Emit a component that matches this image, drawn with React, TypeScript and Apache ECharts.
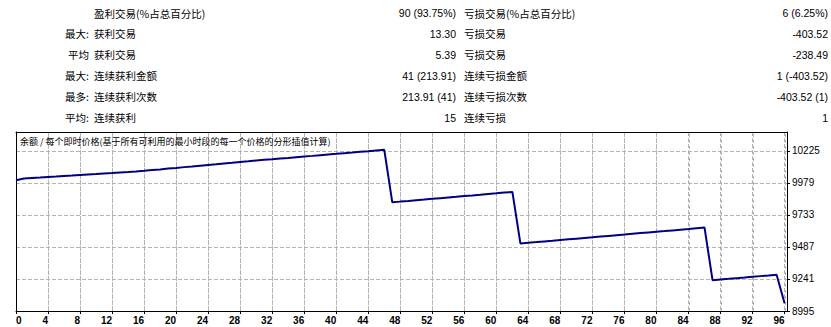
import React, { useEffect, useRef } from "react";
import * as echarts from "echarts";

// ---- Summary table (top) ----
const rowPrefixes = ["", "最大:", "平均", "最大:", "最多:", "平均:"];
const winLabels = ["盈利交易(%占总百分比)", "获利交易", "获利交易", "连续获利金额", "连续获利次数", "连续获利"];
const winValues = ["90 (93.75%)", "13.30", "5.39", "41 (213.91)", "213.91 (41)", "15"];
const lossLabels = ["亏损交易(%占总百分比)", "亏损交易", "亏损交易", "连续亏损金额", "连续亏损次数", "连续亏损"];
const lossValues = ["6 (6.25%)", "-403.52", "-238.49", "1 (-403.52)", "-403.52 (1)", "1"];

// ---- Chart ----
const chartTitle = "余额 / 每个即时价格(基于所有可利用的最小时段的每一个价格的分形插值计算)";
const yTickLabels = [8995, 9241, 9487, 9733, 9979, 10225];
const xTickLabels = [0, 4, 8, 12, 16, 20, 24, 28, 32, 36, 40, 44, 48, 52, 56, 60, 64, 68, 72, 76, 80, 84, 88, 92, 96];
const balance = [
  10000, 10013.3, 10017.2, 10020.7, 10024.9, 10028.5, 10032.5, 10035.8, 10039.9, 10043.6,
  10047.4, 10051.4, 10055.0, 10058.9, 10062.4, 10066.1, 10071.5, 10077.6, 10082.8, 10088.7,
  10094.2, 10100.2, 10105.5, 10111.3, 10116.9, 10122.1, 10128.3, 10133.8, 10139.5, 10144.9,
  10150.8, 10156.1, 10161.1, 10166.4, 10171.2, 10176.6, 10181.7, 10186.6, 10192.2, 10197.4,
  10202.1, 10207.4, 10212.4, 10217.9, 10222.8, 10228.0, 10233.1, 9829.6, 9835.2, 9840.3,
  9845.8, 9850.8, 9856.5, 9861.7, 9867.1, 9872.4, 9878.0, 9883.1, 9888.5, 9894.0,
  9899.2, 9904.5, 9909.6, 9514.0, 9519.3, 9524.3, 9529.7, 9534.9, 9540.4, 9545.5,
  9550.8, 9556.2, 9561.2, 9566.8, 9572.0, 9577.3, 9582.4, 9587.8, 9593.3, 9598.5,
  9603.8, 9608.8, 9614.2, 9619.5, 9624.7, 9630.2, 9635.5, 9232.0, 9237.2, 9242.1,
  9247.4, 9252.4, 9257.8, 9262.9, 9267.9, 9273.1, 9054.2,
];

const CJK = '"Noto Sans CJK SC", sans-serif';
const NUM = '"Liberation Sans Narrow", "Liberation Sans", "Noto Sans CJK SC", sans-serif';
const GRID_COLOR = "#b4b4b4";

export default function App() {
  const ref = useRef<HTMLDivElement>(null);
  useEffect(() => {
    if (!ref.current) return;
    const chart = echarts.init(ref.current, null, { renderer: "svg" });

    const rowY = (k: number) => 13 + k * 20.9;
    const graphics: any[] = [];
    rowPrefixes.forEach((t, k) => {
      if (t)
        graphics.push({ type: "text", x: 89, y: rowY(k), style: { text: t, align: "right", verticalAlign: "middle", font: `10.5px ${CJK}`, fill: "#000" } });
    });
    winLabels.forEach((t, k) => {
      graphics.push({ type: "text", x: 94, y: rowY(k), style: { text: t, align: "left", verticalAlign: "middle", font: `10.5px ${CJK}`, fill: "#000" } });
    });
    winValues.forEach((t, k) => {
      graphics.push({ type: "text", x: 456, y: rowY(k), style: { text: t, align: "right", verticalAlign: "middle", font: `10.5px ${NUM}`, fill: "#000" } });
    });
    lossLabels.forEach((t, k) => {
      graphics.push({ type: "text", x: 464, y: rowY(k), style: { text: t, align: "left", verticalAlign: "middle", font: `10.5px ${CJK}`, fill: "#000" } });
    });
    lossValues.forEach((t, k) => {
      graphics.push({ type: "text", x: 828, y: rowY(k), style: { text: t, align: "right", verticalAlign: "middle", font: `10.5px ${NUM}`, fill: "#000" } });
    });
    graphics.push({ type: "text", x: 20, y: 141, z: 10, style: { text: chartTitle, align: "left", verticalAlign: "middle", font: `9px ${CJK}`, fill: "#000" } });

    const yInterval = yTickLabels[1] - yTickLabels[0];
    const xInterval = xTickLabels[1] - xTickLabels[0];
    const xMax = 96.3;
    const yMin = yTickLabels[0];
    const yMax = 10370;
    const split = () => ({ show: true, lineStyle: { color: GRID_COLOR, type: "dashed", width: 1 } });
    const frameLine = () => ({ show: true, onZero: false, lineStyle: { color: "#000", width: 1 } });
    const points = balance.map((v, i) => [i, v]);
    chart.setOption({
      animation: false,
      backgroundColor: "#fff",
      graphic: graphics,
      grid: { left: 16, top: 132, right: 44, bottom: 16, show: false, containLabel: false },
      xAxis: [
        {
          type: "value",
          min: 0,
          max: xMax,
          interval: xInterval,
          position: "bottom",
          axisLine: frameLine(),
          axisTick: { show: true, length: 3, lineStyle: { color: "#000" } },
          axisLabel: {
            show: true,
            showMaxLabel: false,
            margin: 4,
            align: "right",
            alignMinLabel: "left",
            color: "#000",
            fontFamily: NUM,
            fontSize: 10,
            fontWeight: "bold",
            formatter: (v: number) => String(v),
          },
          splitLine: split(),
        },
        {
          type: "value",
          min: 0,
          max: xMax,
          interval: xInterval,
          position: "top",
          axisLine: frameLine(),
          axisTick: { show: false },
          axisLabel: { show: false },
          splitLine: { show: false },
        },
      ],
      yAxis: [
        {
          type: "value",
          position: "right",
          min: yMin,
          max: yMax,
          interval: yInterval,
          axisLine: frameLine(),
          axisTick: { show: true, length: 3, lineStyle: { color: "#000" } },
          axisLabel: {
            show: true,
            showMaxLabel: false,
            margin: 5,
            color: "#000",
            fontFamily: NUM,
            fontSize: 10,
            formatter: (v: number) => String(v),
          },
          splitLine: split(),
        },
        {
          type: "value",
          position: "left",
          min: yMin,
          max: yMax,
          interval: yInterval,
          axisLine: frameLine(),
          axisTick: { show: false },
          axisLabel: { show: false },
          splitLine: { show: false },
        },
      ],
      series: [
        {
          type: "custom",
          xAxisIndex: 0,
          yAxisIndex: 0,
          silent: true,
          z: 1,
          data: xTickLabels.slice(1).map((v) => [v]),
          encode: { x: 0 },
          renderItem: (params: any, api: any) => {
            const xv = api.value(0);
            const p0 = api.coord([xv, yMin]);
            const p1 = api.coord([xv, yMax]);
            const x = Math.round(p0[0]) + 0.5;
            return {
              type: "line",
              shape: { x1: x, y1: p0[1], x2: x, y2: p1[1] },
              style: { stroke: GRID_COLOR, lineWidth: 1, lineDash: [3, 3], fill: null },
            };
          },
        },
        {
          type: "line",
          xAxisIndex: 0,
          yAxisIndex: 0,
          data: points,
          showSymbol: false,
          lineStyle: { color: "#000080", width: 2 },
          itemStyle: { color: "#000080" },
          z: 5,
        },
      ],
    });
    return () => chart.dispose();
  }, []);
  return <div ref={ref} style={{ position: "absolute", left: 0, top: 0, width: 831, height: 327 }} />;
}
